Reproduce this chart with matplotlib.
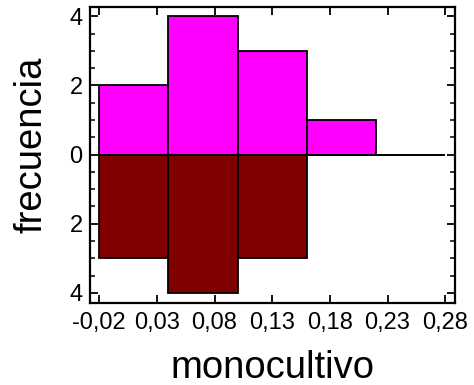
import matplotlib
matplotlib.use("Agg")
import matplotlib.pyplot as plt
import numpy as np
from matplotlib.ticker import MultipleLocator

bin_edges = [-0.02, 0.04, 0.10, 0.16, 0.22, 0.28]
top_counts = [2, 4, 3, 1, 0]
bottom_counts = [3, 4, 3, 0, 0]
x_ticks = [-0.02, 0.03, 0.08, 0.13, 0.18, 0.23, 0.28]
x_tick_labels = ["-0,02", "0,03", "0,08", "0,13", "0,18", "0,23", "0,28"]
y_ticks = [-4, -2, 0, 2, 4]
y_tick_labels = ["4", "2", "0", "2", "4"]

plt.rcParams['font.family'] = ['Liberation Sans', 'DejaVu Sans']

fig = plt.figure(figsize=(4.74, 3.85), dpi=100)
ax = fig.add_axes([0.189, 0.214, 0.771, 0.767])

left = np.array(bin_edges[:-1])
width = np.diff(bin_edges)
ax.bar(left, top_counts, width=width, align='edge', color='#FF00FF',
       edgecolor='black', linewidth=1.3)
ax.bar(left, -np.array(bottom_counts), width=width, align='edge', color='#800000',
       edgecolor='black', linewidth=1.3)

ax.set_xlim(-0.0283, 0.2885)
ax.set_ylim(-4.28, 4.26)

ax.set_xticks(x_ticks)
ax.set_xticklabels(x_tick_labels)
ax.set_yticks(y_ticks)
ax.set_yticklabels(y_tick_labels)
ax.yaxis.set_minor_locator(MultipleLocator(0.5))

ax.tick_params(axis='both', which='major', direction='in', length=6, width=1.3,
               top=True, right=True, labelsize=17, pad=5)
ax.tick_params(axis='x', which='major', pad=7)
ax.tick_params(axis='y', which='minor', direction='in', length=3.5, width=1.1,
               right=True)
for s in ax.spines.values():
    s.set_linewidth(1.6)

ax.set_xlabel("monocultivo", fontsize=27.5, labelpad=11)
ax.set_ylabel("frecuencia", fontsize=27.5)
ax.yaxis.set_label_coords(-0.11, 0.534)

fig.savefig("out.png", dpi=100)
